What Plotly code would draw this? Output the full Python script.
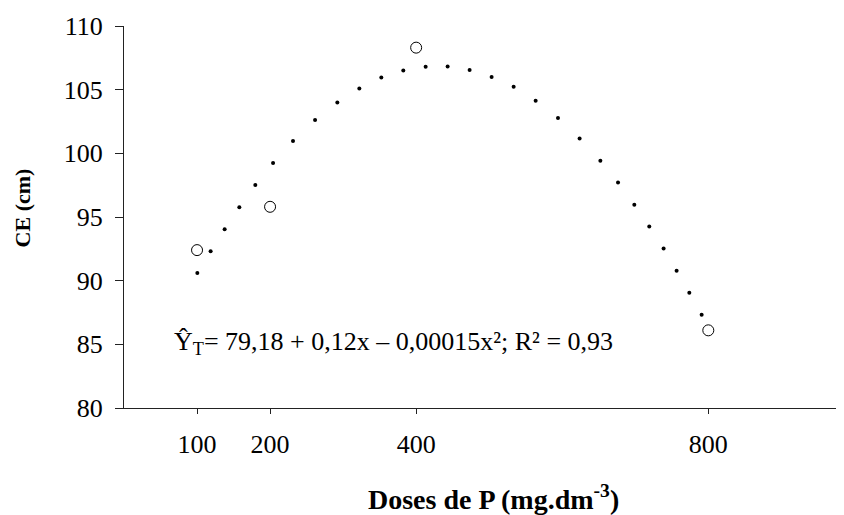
import plotly.graph_objects as go

# Observed means (open circles)
doses = [100, 200, 400, 800]
ce_obs = [92.4, 95.8, 108.3, 86.1]

# Fitted curve (dotted)
x_fit = [100.4, 118.6, 137.8, 157.9, 179.8, 204.1, 231.4, 261.6, 292.1, 322.2,
         352.3, 382.4, 413.0, 443.1, 473.2, 503.3, 533.5, 563.6, 594.2, 623.8,
         652.2, 676.4, 698.7, 719.2, 738.8, 756.6, 774.0, 790.9]
y_fit = [90.60, 92.32, 94.04, 95.77, 97.52, 99.24, 100.96, 102.61, 104.00, 105.09,
         105.96, 106.50, 106.79, 106.82, 106.55, 106.00, 105.22, 104.12, 102.77, 101.16,
         99.42, 97.70, 95.97, 94.25, 92.52, 90.78, 89.05, 87.33]

x_ticks = [100, 200, 400, 800]
y_ticks = [80, 85, 90, 95, 100, 105, 110]

equation = "Ŷ<sub>T</sub>= 79,18 + 0,12x – 0,00015x²; R² = 0,93"
x_title = "<b>Doses de P (mg.dm<sup>-3</sup>)</b>"
y_title = "<b>CE (cm)</b>"

FONT = "Liberation Serif, Times New Roman, DejaVu Serif, serif"

fig = go.Figure()
fig.add_trace(go.Scatter(
    x=x_fit, y=y_fit, mode="markers",
    marker=dict(size=4, color="black"),
    hoverinfo="skip", showlegend=False,
))
fig.add_trace(go.Scatter(
    x=doses, y=ce_obs, mode="markers",
    marker=dict(symbol="circle-open", size=11, color="black", line=dict(width=1, color="black")),
    showlegend=False,
))

fig.add_annotation(
    x=66, y=85.13, xref="x", yref="y", text=equation, showarrow=False,
    xanchor="left", yanchor="middle",
    font=dict(family=FONT, size=26, color="black"),
)
fig.add_annotation(
    x=0.5127, y=-0.2337, xref="paper", yref="paper", text=x_title, showarrow=False,
    xanchor="center", yanchor="middle",
    font=dict(family=FONT, size=28, color="black"),
)
fig.add_annotation(
    x=-0.1411, y=0.5235, xref="paper", yref="paper", text=y_title, showarrow=False,
    xanchor="center", yanchor="middle", textangle=-90,
    font=dict(family=FONT, size=22, color="black"),
)

fig.update_layout(
    width=836, height=507,
    margin=dict(l=116, r=0, t=18, b=106.5),
    paper_bgcolor="white", plot_bgcolor="white",
    font=dict(family=FONT, size=26, color="black"),
)
fig.update_xaxes(
    range=[0, 985.8], tickvals=x_ticks, ticktext=[str(v) for v in x_ticks],
    showline=True, linecolor="#222", linewidth=1,
    ticks="outside", ticklen=5, tickcolor="#222", tickwidth=1,
    showgrid=False, zeroline=False, ticklabelstandoff=8,
)
fig.update_yaxes(
    range=[80, 110], tickvals=y_ticks,
    showline=True, linecolor="#222", linewidth=1,
    ticks="outside", ticklen=8, tickcolor="#222", tickwidth=1,
    showgrid=False, zeroline=False, ticklabelstandoff=7,
)

fig.write_html("out.html")
